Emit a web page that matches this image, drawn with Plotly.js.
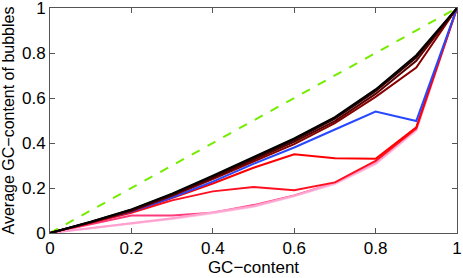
<!DOCTYPE html>
<html><head><meta charset="utf-8">
<script src="https://cdn.plot.ly/plotly-3.0.1.min.js"></script>
<style>html,body{margin:0;padding:0;background:#fff}#c{width:463px;height:278px}</style>
</head><body><div id="c"></div>
<script>
const gc = [0,0.1,0.2,0.3,0.4,0.5,0.6,0.7,0.8,0.9,1];
const diagonal = [0,0.1,0.2,0.3,0.4,0.5,0.6,0.7,0.8,0.9,1];
const s1 = [0,0.050,0.105,0.175,0.255,0.337,0.420,0.515,0.638,0.790,1];
const s2 = [0,0.049,0.103,0.172,0.250,0.332,0.413,0.508,0.630,0.780,1];
const s3 = [0,0.048,0.100,0.168,0.245,0.325,0.405,0.497,0.618,0.765,1];
const s4 = [0,0.047,0.098,0.165,0.240,0.318,0.395,0.488,0.605,0.735,1];
const sBlue = [0,0.046,0.095,0.158,0.228,0.307,0.380,0.460,0.540,0.498,1];
const s5 = [0,0.045,0.093,0.155,0.220,0.290,0.350,0.332,0.330,0.470,1];
const s6 = [0,0.044,0.090,0.145,0.185,0.204,0.190,0.225,0.320,0.465,1];
const s7 = [0,0.040,0.078,0.078,0.090,0.124,0.167,0.222,0.311,0.461,1];
const s8 = [0,0.022,0.045,0.066,0.092,0.120,0.166,0.222,0.310,0.460,1];
const s9 = [0,0.020,0.042,0.062,0.088,0.117,0.163,0.218,0.306,0.455,1];
const ticks = [0,0.2,0.4,0.6,0.8,1];
const tickText = ['0','0.2','0.4','0.6','0.8','1'];

const series = [
  {y:s7, c:'#ff3a78'},
  {y:s9, c:'#ffc4e0'},
  {y:s8, c:'#ffa0cf'},
  {y:s6, c:'#ff1020'},
  {y:s5, c:'#ff0000'},
  {y:sBlue, c:'#2848ff'},
  {y:s4, c:'#880000'},
  {y:s3, c:'#5a0000'},
  {y:s2, c:'#300000'},
  {y:s1, c:'#000000'}
];
const traces = series.map(s => ({x:gc, y:s.y, mode:'lines', line:{color:s.c, width:2}, hoverinfo:'skip'}));
traces.unshift({x:gc, y:diagonal, mode:'lines', line:{color:'#74ec00', width:2, dash:'dash'}, hoverinfo:'skip'});

const font = {family:'Liberation Sans, Arial, sans-serif', size:17, color:'#000'};
const yTitleFont = {family:'Liberation Sans, Arial, sans-serif', size:16, color:'#000'};
const layout = {
  width:463, height:278,
  margin:{l:50, r:6, t:8, b:45},
  paper_bgcolor:'#fff', plot_bgcolor:'#fff',
  showlegend:false,
  font:font,
  xaxis:{range:[0,1], tickvals:ticks, ticktext:tickText, ticks:'inside', ticklen:5, tickcolor:'#555',
    showline:true, linecolor:'#555', linewidth:1, mirror:'ticks', showgrid:false, zeroline:false,
    ticklabeloverflow:'allow', tickfont:font, title:{text:'GC−content', font:font, standoff:0}},
  yaxis:{range:[0,1], tickvals:ticks, ticktext:tickText, ticks:'inside', ticklen:5, tickcolor:'#555',
    showline:true, linecolor:'#555', linewidth:1, mirror:'ticks', showgrid:false, zeroline:false,
    ticklabeloverflow:'allow', tickfont:font, title:{text:'Average GC−content of bubbles', font:yTitleFont, standoff:3}}
};
Plotly.newPlot('c', traces, layout, {staticPlot:true, displayModeBar:false});
</script></body></html>
